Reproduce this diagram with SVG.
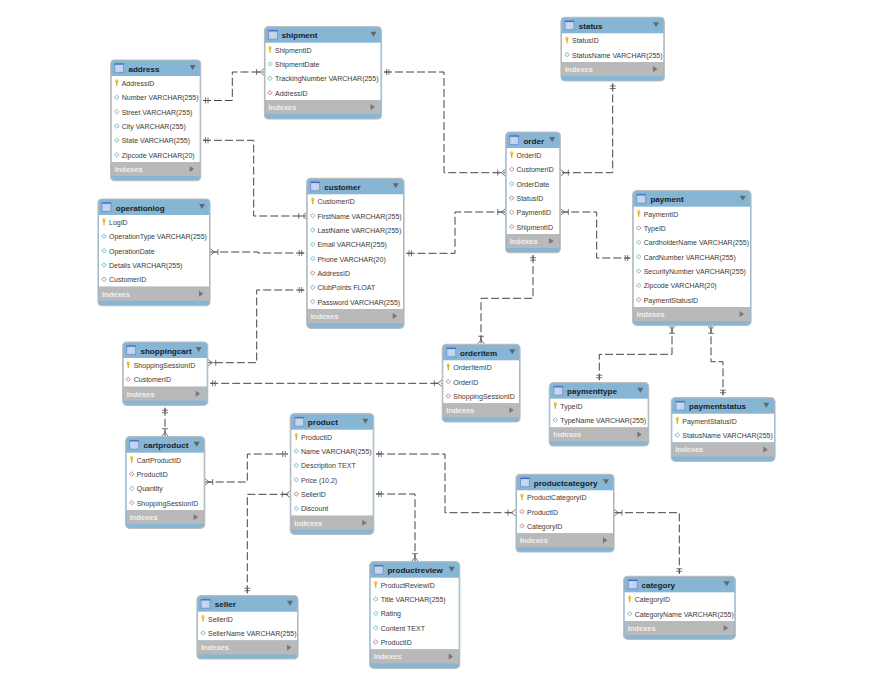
<svg xmlns="http://www.w3.org/2000/svg" width="873" height="678" viewBox="0 0 873 678">
<style>
text{font-family:"Liberation Sans",Arial,sans-serif}
.b{fill:#87b5d4;stroke:#b9bdc0;stroke-width:1.2}
.w{fill:#fff}
.g{fill:#b9b9b9}
.h{font-size:8.1px;font-weight:700;fill:#16222c}
.r{font-size:7px;fill:#3a3a3a}
.i{font-size:7.5px;font-weight:700;fill:#f0f0f0}
.c{fill:none;stroke:#444;stroke-width:1;stroke-dasharray:8 3;marker-start:url(#one);marker-end:url(#many)}
.c2{fill:none;stroke:#444;stroke-width:1;stroke-dasharray:8 3;marker-start:url(#many);marker-end:url(#one)}
</style>
<defs>
<marker id="one" markerUnits="userSpaceOnUse" viewBox="-9 -5 11 10" refX="0" refY="0" markerWidth="11" markerHeight="10" orient="auto-start-reverse"><path d="M-2.5-3V3M-5-3V3M-5 0H0" fill="none" stroke="#555" stroke-width=".8"/></marker>
<marker id="many" markerUnits="userSpaceOnUse" viewBox="-9 -5 11 10" refX="0" refY="0" markerWidth="11" markerHeight="10" orient="auto-start-reverse"><path d="M-8-3V3M-8 0H-4.5L0-3.5M-4.5 0L0 3.5" fill="none" stroke="#555" stroke-width=".8"/></marker>
<g id="t"><rect x="0" y="0" width="9" height="9" fill="#bcd2ea" stroke="#6f8fd0" stroke-width=".8"/><path d="M0 .6H9" stroke="#3f68c4" stroke-width="1.2"/><path d="M1 3.5H8M1 6H8M3.5 2V8.5" stroke="#d7e4f3" stroke-width=".5"/></g>
<path id="d" d="M-3-2.5H3L0 2.5Z" fill="#666"/>
<path id="a" d="M-2-3L2.5 0L-2 3Z" fill="#777"/>
<g id="k"><ellipse cx="0" cy="-1.8" rx="1.6" ry="2" fill="#f4c430"/><path d="M0-1V3" stroke="#d8a61e" stroke-width="1.2"/></g>
<path id="p" d="M-2.4 0L0-2.2L2.4 0L0 2.2Z" fill="#eef8f8" stroke="#7dbcc4" stroke-width=".9"/>
<path id="f" d="M-2.4 0L0-2.2L2.4 0L0 2.2Z" fill="#fbf0f0" stroke="#c98a8a" stroke-width=".9"/>
</defs>
<rect width="873" height="678" fill="#fff"/>
<g id="connectors">
<path class="c" d="M203 100.5H232.3V72H264.5"/>
<path class="c" d="M203 140.3H253.7V216H306.7"/>
<path class="c" d="M384 72H444V172.7H505.7"/>
<path class="c" d="M612.7 83.5V172.7H560.3"/>
<path class="c" d="M406.5 253.3H455V212H505.7"/>
<path class="c2" d="M560.3 212H596.7V258H630.2"/>
<path class="c" d="M304.2 253H258V252H210"/>
<path class="c" d="M304.2 290H256.7V362.7H207.7"/>
<path class="c" d="M210.2 383.3H442.3"/>
<path class="c" d="M533 255.2V298.3H481V344.3"/>
<path class="c2" d="M672 325.3V354.3H599.3V380.2"/>
<path class="c2" d="M711 325.3V361.7H723V395.2"/>
<path class="c" d="M165 407.8V436.7"/>
<path class="c2" d="M204.7 482H247.3V454H287.8"/>
<path class="c" d="M247.3 593.2V494.3H290.3"/>
<path class="c" d="M376.2 454H445V512.7H516"/>
<path class="c" d="M376.2 494H415V561.7"/>
<path class="c2" d="M614 512.7H679.3V573.8"/>
</g>
<g id="shipment" transform="translate(264.5 26.7)"><rect class="b" width="117" height="92.3" rx="4"/><rect class="w" x="1" y="16" width="115" height="57.3"/><rect class="g" x="1" y="73.3" width="115" height="14"/><use href="#t" x="4" y="3.5"/><use href="#d" x="109" y="7.5"/><text class="h" x="17" y="11.5">shipment</text><use href="#k" x="5.5" y="23"/><text class="r" x="10.5" y="26">ShipmentID</text><use href="#p" x="5.5" y="37.3"/><text class="r" x="10.5" y="40.3">ShipmentDate</text><use href="#p" x="5.5" y="51.7"/><text class="r" x="10.5" y="54.7">TrackingNumber VARCHAR(255)</text><use href="#f" x="5.5" y="66"/><text class="r" x="10.5" y="69">AddressID</text><text class="i" x="4" y="83.5">Indexes</text><use href="#a" x="108" y="80.3"/></g>
<g id="address" transform="translate(110.7 60)"><rect class="b" width="90" height="120.7" rx="4"/><rect class="w" x="1" y="16" width="88" height="86"/><rect class="g" x="1" y="102" width="88" height="14"/><use href="#t" x="4" y="3.5"/><use href="#d" x="82" y="7.5"/><text class="h" x="17.7" y="11.5">address</text><use href="#k" x="6" y="23"/><text class="r" x="11" y="26">AddressID</text><use href="#p" x="6" y="37.3"/><text class="r" x="11" y="40.3">Number VARCHAR(255)</text><use href="#p" x="6" y="51.7"/><text class="r" x="11" y="54.7">Street VARCHAR(255)</text><use href="#p" x="6" y="66"/><text class="r" x="11" y="69">City VARCHAR(255)</text><use href="#p" x="6" y="80.3"/><text class="r" x="11" y="83.3">State VARCHAR(255)</text><use href="#p" x="6" y="94.7"/><text class="r" x="11" y="97.7">Zipcode VARCHAR(20)</text><text class="i" x="4" y="112">Indexes</text><use href="#a" x="81" y="109"/></g>
<g id="customer" transform="translate(306.7 178.3)"><rect class="b" width="97.3" height="150" rx="4"/><rect class="w" x="1" y="16" width="95.3" height="114.7"/><rect class="g" x="1" y="130.7" width="95.3" height="14"/><use href="#t" x="4" y="3.5"/><use href="#d" x="89" y="7.5"/><text class="h" x="17.5" y="11.5">customer</text><use href="#k" x="6" y="23"/><text class="r" x="10.7" y="26">CustomerID</text><use href="#p" x="6" y="37.3"/><text class="r" x="10.7" y="40.3">FirstName VARCHAR(255)</text><use href="#p" x="6" y="51.7"/><text class="r" x="10.7" y="54.7">LastName VARCHAR(255)</text><use href="#p" x="6" y="66"/><text class="r" x="10.7" y="69">Email VARCHAR(255)</text><use href="#p" x="6" y="80.3"/><text class="r" x="10.7" y="83.3">Phone VARCHAR(20)</text><use href="#f" x="6" y="94.7"/><text class="r" x="10.7" y="97.7">AddressID</text><use href="#p" x="6" y="109"/><text class="r" x="10.7" y="112">ClubPoints FLOAT</text><use href="#p" x="6" y="123.3"/><text class="r" x="10.7" y="126.3">Password VARCHAR(255)</text><text class="i" x="4" y="140.7">Indexes</text><use href="#a" x="88" y="137.7"/></g>
<g id="operationlog" transform="translate(98 199)"><rect class="b" width="112" height="106.7" rx="4"/><rect class="w" x="1" y="16" width="110" height="71.7"/><rect class="g" x="1" y="87.7" width="110" height="14"/><use href="#t" x="4" y="3.5"/><use href="#d" x="104" y="7.5"/><text class="h" x="17.7" y="11.5">operationlog</text><use href="#k" x="6" y="23"/><text class="r" x="11" y="26">LogID</text><use href="#p" x="6" y="37.3"/><text class="r" x="11" y="40.3">OperationType VARCHAR(255)</text><use href="#p" x="6" y="51.7"/><text class="r" x="11" y="54.7">OperationDate</text><use href="#p" x="6" y="66"/><text class="r" x="11" y="69">Details VARCHAR(255)</text><use href="#f" x="6" y="80.3"/><text class="r" x="11" y="83.3">CustomerID</text><text class="i" x="4" y="97.7">Indexes</text><use href="#a" x="103" y="94.7"/></g>
<g id="shoppingcart" transform="translate(122.7 342)"><rect class="b" width="85" height="63.3" rx="4"/><rect class="w" x="1" y="16" width="83" height="28.7"/><rect class="g" x="1" y="44.7" width="83" height="14"/><use href="#t" x="4" y="3.5"/><use href="#d" x="76" y="7.5"/><text class="h" x="17.7" y="11.5">shoppingcart</text><use href="#k" x="5.5" y="23"/><text class="r" x="11" y="26">ShoppingSessionID</text><use href="#f" x="5.5" y="37.3"/><text class="r" x="11" y="40.3">CustomerID</text><text class="i" x="4" y="54.7">Indexes</text><use href="#a" x="75" y="51.7"/></g>
<g id="status" transform="translate(561 17.3)"><rect class="b" width="103.3" height="63.7" rx="4"/><rect class="w" x="1" y="16" width="101.3" height="28.7"/><rect class="g" x="1" y="44.7" width="101.3" height="14"/><use href="#t" x="4" y="3.5"/><use href="#d" x="95" y="7.5"/><text class="h" x="17.7" y="11.5">status</text><use href="#k" x="6" y="23"/><text class="r" x="11" y="26">StatusID</text><use href="#p" x="6" y="37.3"/><text class="r" x="11" y="40.3">StatusName VARCHAR(255)</text><text class="i" x="4" y="54.7">Indexes</text><use href="#a" x="94" y="51.7"/></g>
<g id="order" transform="translate(505.7 132)"><rect class="b" width="54.6" height="120.7" rx="4"/><rect class="w" x="1" y="16" width="52.6" height="86"/><rect class="g" x="1" y="102" width="52.6" height="14"/><use href="#t" x="4" y="3.5"/><use href="#d" x="46.5" y="7.5"/><text class="h" x="17.7" y="11.5">order</text><use href="#k" x="6" y="23"/><text class="r" x="10.8" y="26">OrderID</text><use href="#f" x="6" y="37.3"/><text class="r" x="10.8" y="40.3">CustomerID</text><use href="#p" x="6" y="51.7"/><text class="r" x="10.8" y="54.7">OrderDate</text><use href="#f" x="6" y="66"/><text class="r" x="10.8" y="69">StatusID</text><use href="#f" x="6" y="80.3"/><text class="r" x="10.8" y="83.3">PaymentID</text><use href="#f" x="6" y="94.7"/><text class="r" x="10.8" y="97.7">ShipmentID</text><text class="i" x="4" y="112">Indexes</text><use href="#a" x="45.5" y="109"/></g>
<g id="payment" transform="translate(632.7 190.7)"><rect class="b" width="118.3" height="134.6" rx="4"/><rect class="w" x="1" y="16" width="116.3" height="100.3"/><rect class="g" x="1" y="116.3" width="116.3" height="14"/><use href="#t" x="4" y="3.5"/><use href="#d" x="110" y="7.5"/><text class="h" x="17.7" y="11.5">payment</text><use href="#k" x="6" y="23"/><text class="r" x="11" y="26">PaymentID</text><use href="#f" x="6" y="37.3"/><text class="r" x="11" y="40.3">TypeID</text><use href="#p" x="6" y="51.7"/><text class="r" x="11" y="54.7">CardholderName VARCHAR(255)</text><use href="#p" x="6" y="66"/><text class="r" x="11" y="69">CardNumber VARCHAR(255)</text><use href="#p" x="6" y="80.3"/><text class="r" x="11" y="83.3">SecurityNumber VARCHAR(255)</text><use href="#p" x="6" y="94.7"/><text class="r" x="11" y="97.7">Zipcode VARCHAR(20)</text><use href="#f" x="6" y="109"/><text class="r" x="11" y="112">PaymentStatusID</text><text class="i" x="4" y="126.3">Indexes</text><use href="#a" x="109" y="123.3"/></g>
<g id="cartproduct" transform="translate(125.7 436.7)"><rect class="b" width="79" height="91.6" rx="4"/><rect class="w" x="1" y="16" width="77" height="57.3"/><rect class="g" x="1" y="73.3" width="77" height="14"/><use href="#t" x="4" y="3.5"/><use href="#d" x="71" y="7.5"/><text class="h" x="17.7" y="11.5">cartproduct</text><use href="#k" x="6" y="23"/><text class="r" x="11" y="26">CartProductID</text><use href="#f" x="6" y="37.3"/><text class="r" x="11" y="40.3">ProductID</text><use href="#p" x="6" y="51.7"/><text class="r" x="11" y="54.7">Quantity</text><use href="#f" x="6" y="66"/><text class="r" x="11" y="69">ShoppingSessionID</text><text class="i" x="4" y="83.5">Indexes</text><use href="#a" x="70" y="80.3"/></g>
<g id="product" transform="translate(290.3 413.7)"><rect class="b" width="83.4" height="120.6" rx="4"/><rect class="w" x="1" y="16" width="81.4" height="86"/><rect class="g" x="1" y="102" width="81.4" height="14"/><use href="#t" x="4.5" y="3.5"/><use href="#d" x="75" y="7.5"/><text class="h" x="17.5" y="11.5">product</text><use href="#k" x="6" y="23"/><text class="r" x="10.7" y="26">ProductID</text><use href="#p" x="6" y="37.3"/><text class="r" x="10.7" y="40.3">Name VARCHAR(255)</text><use href="#p" x="6" y="51.7"/><text class="r" x="10.7" y="54.7">Description TEXT</text><use href="#p" x="6" y="66"/><text class="r" x="10.7" y="69">Price (10,2)</text><use href="#f" x="6" y="80.3"/><text class="r" x="10.7" y="83.3">SellerID</text><use href="#p" x="6" y="94.7"/><text class="r" x="10.7" y="97.7">Discount</text><text class="i" x="4" y="112">Indexes</text><use href="#a" x="74" y="109"/></g>
<g id="seller" transform="translate(197 595.7)"><rect class="b" width="101" height="63.3" rx="4"/><rect class="w" x="1" y="16" width="99" height="28.7"/><rect class="g" x="1" y="44.7" width="99" height="14"/><use href="#t" x="4" y="3.5"/><use href="#d" x="93" y="7.5"/><text class="h" x="17.7" y="11.5">seller</text><use href="#k" x="6" y="23"/><text class="r" x="11" y="26">SellerID</text><use href="#p" x="6" y="37.3"/><text class="r" x="11" y="40.3">SellerName VARCHAR(255)</text><text class="i" x="4" y="54.7">Indexes</text><use href="#a" x="92" y="51.7"/></g>
<g id="orderitem" transform="translate(442.3 344.3)"><rect class="b" width="77.7" height="77.7" rx="4"/><rect class="w" x="1" y="16" width="75.7" height="43"/><rect class="g" x="1" y="59" width="75.7" height="14"/><use href="#t" x="4.5" y="3.5"/><use href="#d" x="70" y="7.5"/><text class="h" x="17.7" y="11.5">orderitem</text><use href="#k" x="6" y="23"/><text class="r" x="11" y="26">OrderItemID</text><use href="#f" x="6" y="37.3"/><text class="r" x="11" y="40.3">OrderID</text><use href="#f" x="6" y="51.7"/><text class="r" x="11" y="54.7">ShoppingSessionID</text><text class="i" x="4" y="69">Indexes</text><use href="#a" x="69" y="66"/></g>
<g id="paymenttype" transform="translate(549.3 382.7)"><rect class="b" width="99.4" height="63.3" rx="4"/><rect class="w" x="1" y="16" width="97.4" height="28.7"/><rect class="g" x="1" y="44.7" width="97.4" height="14"/><use href="#t" x="4.5" y="3.5"/><use href="#d" x="91" y="7.5"/><text class="h" x="17.7" y="11.5">paymenttype</text><use href="#k" x="6" y="23"/><text class="r" x="11" y="26">TypeID</text><use href="#p" x="6" y="37.3"/><text class="r" x="11" y="40.3">TypeName VARCHAR(255)</text><text class="i" x="4" y="54.7">Indexes</text><use href="#a" x="90" y="51.7"/></g>
<g id="paymentstatus" transform="translate(671.3 397.7)"><rect class="b" width="103.7" height="63.6" rx="4"/><rect class="w" x="1" y="16" width="101.7" height="28.7"/><rect class="g" x="1" y="44.7" width="101.7" height="14"/><use href="#t" x="4.5" y="3.5"/><use href="#d" x="95" y="7.5"/><text class="h" x="17.7" y="11.5">paymentstatus</text><use href="#k" x="6" y="23"/><text class="r" x="11" y="26">PaymentStatusID</text><use href="#p" x="6" y="37.3"/><text class="r" x="11" y="40.3">StatusName VARCHAR(255)</text><text class="i" x="4" y="54.7">Indexes</text><use href="#a" x="94" y="51.7"/></g>
<g id="productcategory" transform="translate(516 474.3)"><rect class="b" width="98" height="77.7" rx="4"/><rect class="w" x="1" y="16" width="96" height="43"/><rect class="g" x="1" y="59" width="96" height="14"/><use href="#t" x="4.5" y="3.5"/><use href="#d" x="90" y="7.5"/><text class="h" x="17.7" y="11.5">productcategory</text><use href="#k" x="6" y="23"/><text class="r" x="11" y="26">ProductCategoryID</text><use href="#f" x="6" y="37.3"/><text class="r" x="11" y="40.3">ProductID</text><use href="#f" x="6" y="51.7"/><text class="r" x="11" y="54.7">CategoryID</text><text class="i" x="4" y="69">Indexes</text><use href="#a" x="89" y="66"/></g>
<g id="productreview" transform="translate(369.7 561.7)"><rect class="b" width="90" height="106.6" rx="4"/><rect class="w" x="1" y="16" width="88" height="71.7"/><rect class="g" x="1" y="87.7" width="88" height="14"/><use href="#t" x="4.5" y="3.5"/><use href="#d" x="82" y="7.5"/><text class="h" x="17.7" y="11.5">productreview</text><use href="#k" x="6" y="23"/><text class="r" x="11" y="26">ProductReviewID</text><use href="#p" x="6" y="37.3"/><text class="r" x="11" y="40.3">Title VARCHAR(255)</text><use href="#p" x="6" y="51.7"/><text class="r" x="11" y="54.7">Rating</text><use href="#p" x="6" y="66"/><text class="r" x="11" y="69">Content TEXT</text><use href="#f" x="6" y="80.3"/><text class="r" x="11" y="83.3">ProductID</text><text class="i" x="4" y="97.7">Indexes</text><use href="#a" x="81" y="94.7"/></g>
<g id="category" transform="translate(623.7 576.3)"><rect class="b" width="111.6" height="63" rx="4"/><rect class="w" x="1" y="16" width="109.6" height="28.7"/><rect class="g" x="1" y="44.7" width="109.6" height="14"/><use href="#t" x="4.5" y="3.5"/><use href="#d" x="103" y="7.5"/><text class="h" x="17.7" y="11.5">category</text><use href="#k" x="6" y="23"/><text class="r" x="11" y="26">CategoryID</text><use href="#p" x="6" y="37.3"/><text class="r" x="11" y="40.3">CategoryName VARCHAR(255)</text><text class="i" x="4" y="54.7">Indexes</text><use href="#a" x="102" y="51.7"/></g>
</svg>
